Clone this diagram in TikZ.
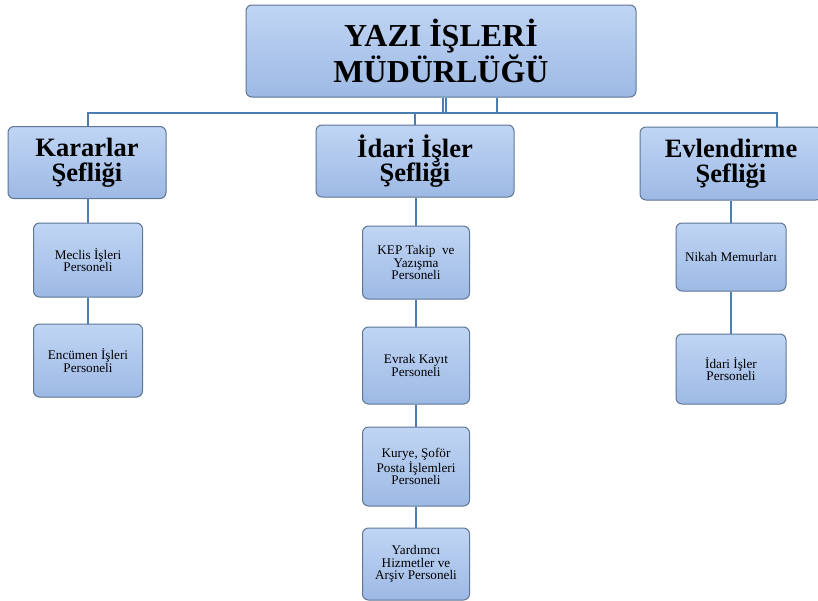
\documentclass[tikz,border=0pt]{standalone}
\usepackage{fontspec}
\setmainfont{Liberation Serif}
\usetikzlibrary{calc}
\definecolor{boxtop}{HTML}{C0D5F4}
\definecolor{boxbot}{HTML}{9DB9E4}
\definecolor{boxline}{HTML}{5E7594}
\definecolor{linkblue}{HTML}{4A7EB5}
\tikzset{
  orgbox/.style={draw=boxline, line width=1pt, rounded corners=6pt,
    top color=boxtop, bottom color=boxbot, align=center, inner sep=2pt},
  headbox/.style={orgbox, font=\bfseries\fontsize{32}{32}\selectfont},
  chiefbox/.style={orgbox, font=\bfseries\fontsize{26.5}{24.5}\selectfont},
  staffbox/.style={orgbox, font=\fontsize{13.2}{12.6}\selectfont},
  conn/.style={draw=linkblue, line width=1.8pt}
}
\begin{document}
\begin{tikzpicture}[x=1pt, y=-1pt]
\useasboundingbox (0,0) rectangle (818,600);
\clip (0,0) rectangle (818,600);

% directorate
\node[headbox, minimum width=390pt, minimum height=92pt] (head) at (441,51)
  {YAZI İŞLERİ\\MÜDÜRLÜĞÜ};

% section chiefs
\node[chiefbox, minimum width=158pt, minimum height=72pt] (karar) at (87,162.5)
  {Kararlar\\Şefliği};
\node[chiefbox, minimum width=198pt, minimum height=72pt] (idari) at (415,161)
  {İdari İşler\\Şefliği};
\node[chiefbox, minimum width=182pt, minimum height=73pt] (evlen) at (731,163.5)
  {Evlendirme\\Şefliği};

% staff under each chief
\node[staffbox, minimum width=109pt, minimum height=74pt] (meclis) at (88,260)
  {Meclis İşleri\\Personeli};
\node[staffbox, minimum width=109pt, minimum height=73pt] (encumen) at (88,360.5)
  {Encümen İşleri\\Personeli};

\node[staffbox, minimum width=107pt, minimum height=73pt] (kep) at (416,262.5)
  {KEP Takip\ \ ve\\Yazışma\\Personeli};
\node[staffbox, minimum width=107pt, minimum height=77pt] (evrak) at (416,365.5)
  {Evrak Kayıt\\Personeli};
\node[staffbox, minimum width=107pt, minimum height=79pt] (kurye) at (416,466.5)
  {Kurye, Şoför\\Posta İşlemleri\\Personeli};
\node[staffbox, minimum width=107pt, minimum height=72pt] (yardim) at (416,564)
  {Yardımcı\\Hizmetler ve\\Arşiv Personeli};

\node[staffbox, minimum width=110pt, minimum height=68pt] (nikah) at (731,257)
  {Nikah Memurları};
\node[staffbox, minimum width=110pt, minimum height=70pt] (idper) at (731,369)
  {İdari İşler\\Personeli};

% distribution bus
\coordinate (busL) at (88,113);
\coordinate (busR) at (777,113);
\draw[conn] (karar.north -| busL) -- (busL) -- (busR) -- (busR |- evlen.north);
\draw[conn] ([xshift=2pt]head.south) -- ([xshift=2pt]head.south |- busL);
\draw[conn] ([xshift=5pt]head.south) -- ([xshift=5pt]head.south |- busL);
\draw[conn] ([xshift=56pt]head.south) -- ([xshift=56pt]head.south |- busL);
\draw[conn] (idari.north) -- (idari.north |- busL);

% chief to staff chains
\draw[conn] (karar.south -| meclis.north) -- (meclis.north);
\draw[conn] (meclis.south) -- (encumen.north);
\draw[conn] (idari.south -| kep.north) -- (kep.north);
\draw[conn] (kep.south) -- (evrak.north);
\draw[conn] (evrak.south) -- (kurye.north);
\draw[conn] (kurye.south) -- (yardim.north);
\draw[conn] (evlen.south) -- (nikah.north);
\draw[conn] (nikah.south) -- (idper.north);
\end{tikzpicture}
\end{document}
